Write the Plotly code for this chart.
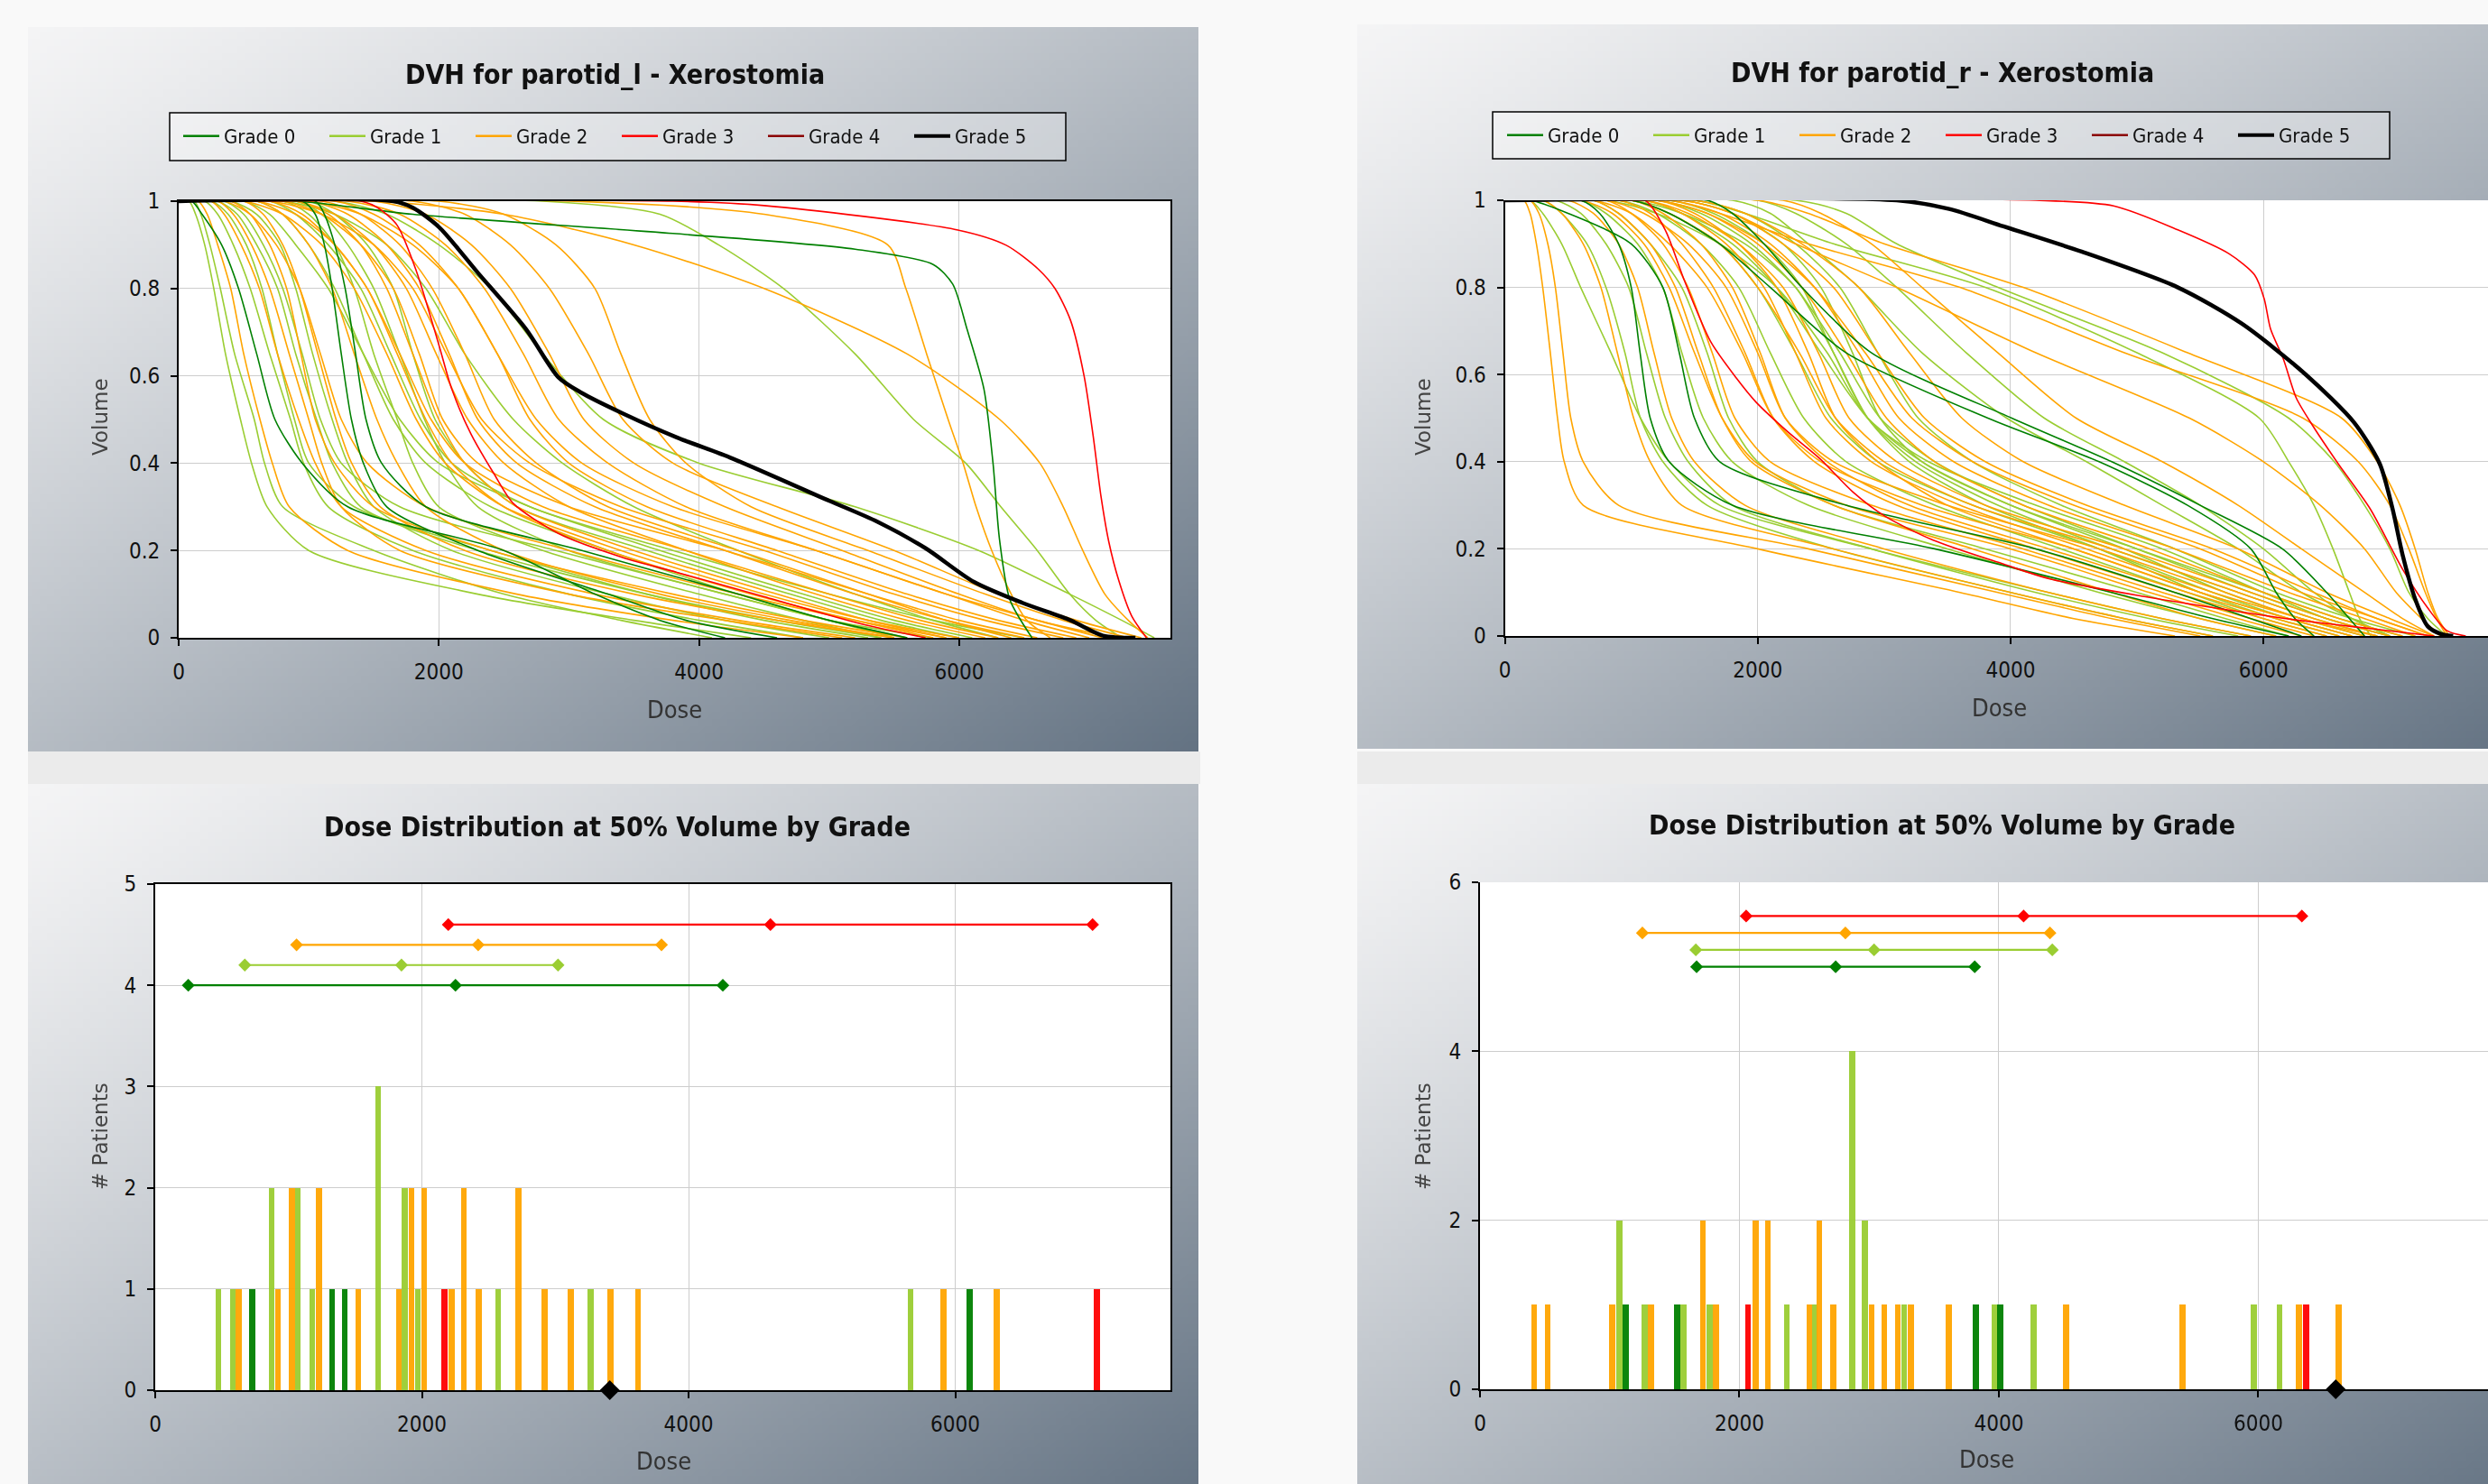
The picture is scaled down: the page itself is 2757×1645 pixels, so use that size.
import base64
import struct
import zlib
import plotly.graph_objects as go

W, H = 2757, 1645

GRADE_NAMES = ["Grade 0", "Grade 1", "Grade 2", "Grade 3", "Grade 4", "Grade 5"]
GRADE_COLORS = ["#008000", "#9ACD32", "#FFA500", "#FF0000", "#8B0000", "#000000"]

VOL_LEVELS = [1, 0.97, 0.9, 0.8, 0.65, 0.5, 0.4, 0.3, 0.2, 0.1, 0.04, 0]

# ---------------- parotid_l DVH: doses at VOL_LEVELS ----------------
L_G1 = [
    [80, 130, 200, 270, 360, 475, 560, 680, 1000, 2300, 3500, 4400],
    [120, 170, 240, 320, 430, 581, 660, 800, 1500, 2500, 3400, 4100],
    [200, 300, 420, 550, 700, 860, 960, 1150, 1800, 3000, 4000, 4800],
    [250, 380, 520, 640, 760, 890, 1000, 1350, 2400, 3600, 4500, 5300],
    [300, 450, 600, 760, 900, 1060, 1180, 1400, 2300, 3600, 4600, 5400],
    [350, 500, 650, 800, 950, 1090, 1250, 1700, 2900, 4200, 5000, 5800],
    [400, 600, 780, 900, 1030, 1180, 1300, 1500, 2100, 3300, 4200, 5000],
    [600, 800, 1000, 1200, 1420, 1650, 1900, 2400, 3300, 4300, 5000, 5600],
    [800, 1000, 1200, 1350, 1500, 1680, 1800, 2000, 2800, 4000, 4800, 5400],
    [500, 700, 900, 1150, 1420, 1700, 2000, 2700, 3700, 4800, 5500, 6100],
    [700, 900, 1150, 1400, 1630, 1860, 2100, 2700, 3800, 5000, 5800, 6500],
    [900, 1100, 1300, 1500, 1700, 1890, 2050, 2300, 3000, 4200, 5000, 5500],
    [1000, 1200, 1450, 1650, 1800, 1971, 2200, 2600, 3600, 4700, 5400, 6000],
    [800, 1200, 1600, 1900, 2200, 2573, 2950, 3500, 4300, 5200, 5800, 6300],
    [1200, 1600, 2000, 2400, 2800, 3265, 4000, 5200, 6150, 6850, 7250, 7500],
    [2800, 3700, 4150, 4650, 5200, 5650, 6050, 6320, 6600, 6850, 7050, 7250],
]
L_G2 = [
    [150, 220, 300, 400, 500, 625, 720, 850, 1300, 2600, 3800, 4800],
    [250, 350, 480, 620, 760, 922, 1050, 1250, 1900, 3200, 4300, 5200],
    [300, 420, 560, 700, 850, 1000, 1100, 1250, 1700, 3000, 4200, 5100],
    [400, 550, 700, 830, 940, 1050, 1200, 1500, 2400, 3800, 4800, 5600],
    [500, 650, 800, 930, 1070, 1210, 1330, 1550, 2200, 3500, 4600, 5500],
    [350, 550, 750, 930, 1090, 1250, 1450, 1900, 3000, 4300, 5200, 5900],
    [600, 800, 1000, 1180, 1350, 1524, 1680, 1900, 2500, 3700, 4700, 5500],
    [500, 800, 1100, 1350, 1600, 1827, 2050, 2500, 3400, 4500, 5300, 6000],
    [700, 950, 1200, 1450, 1680, 1900, 2100, 2500, 3300, 4400, 5200, 5800],
    [600, 900, 1200, 1450, 1700, 1940, 2200, 2800, 3900, 5000, 5700, 6300],
    [900, 1150, 1400, 1600, 1800, 2000, 2200, 2600, 3500, 4600, 5300, 5900],
    [800, 1100, 1400, 1650, 1850, 2030, 2300, 3000, 4200, 5300, 6000, 6600],
    [900, 1200, 1500, 1750, 1980, 2223, 2500, 3000, 3900, 4900, 5600, 6200],
    [1000, 1300, 1600, 1850, 2080, 2300, 2600, 3200, 4200, 5200, 5900, 6500],
    [700, 1100, 1500, 1800, 2060, 2330, 2700, 3400, 4500, 5500, 6200, 6800],
    [1100, 1400, 1700, 1950, 2200, 2426, 2750, 3300, 4300, 5300, 5900, 6400],
    [1200, 1500, 1850, 2150, 2450, 2700, 3000, 3600, 4600, 5600, 6300, 6900],
    [1000, 1400, 1800, 2150, 2450, 2750, 3100, 3800, 4900, 5900, 6600, 7100],
    [1300, 1700, 2050, 2350, 2650, 2922, 3300, 3900, 4900, 5900, 6500, 7000],
    [1500, 1900, 2250, 2550, 2850, 3115, 3500, 4200, 5100, 6000, 6600, 7200],
    [1800, 2200, 2550, 2850, 3150, 3415, 3800, 4600, 5500, 6300, 6900, 7400],
    [2000, 2500, 2900, 3200, 3400, 3621, 3900, 4400, 5300, 6200, 6800, 7300],
    [3000, 4500, 5450, 5590, 5750, 5915, 6030, 6130, 6250, 6400, 6520, 6700],
    [1500, 2500, 3500, 4500, 5600, 6312, 6620, 6800, 6950, 7120, 7300, 7450],
]
L_G0 = [
    [100, 180, 330, 460, 600, 740, 950, 1300, 2500, 3200, 3700, 4200],
    [950, 1050, 1120, 1180, 1250, 1328, 1420, 1600, 2300, 3300, 3900, 4600],
    [1050, 1120, 1200, 1280, 1360, 1440, 1560, 1900, 3100, 4300, 5000, 5600],
]
# curves read with their own volume points
L_G0_PLATEAU_DOSE = [0, 900, 1800, 3800, 5200, 5800, 5950, 6060, 6190, 6260, 6310, 6390, 6560]
L_G0_PLATEAU_VOL = [1, 1, 0.97, 0.926, 0.89, 0.855, 0.81, 0.707, 0.57, 0.4, 0.225, 0.087, 0]
L_G3A_DOSE = [0, 1400, 1530, 1679, 1827, 2001, 2100, 2248, 2421, 2571, 2918, 3413, 3829, 4502, 5245, 5742]
L_G3A_VOL = [1, 1, 0.985, 0.945, 0.84, 0.67, 0.569, 0.466, 0.377, 0.308, 0.239, 0.184, 0.15, 0.094, 0.032, 0]
L_G3B_DOSE = [0, 3800, 4500, 5990, 6362, 6609, 6736, 6856, 6960, 7030, 7090, 7150, 7228, 7326, 7440]
L_G3B_VOL = [1, 1, 0.99, 0.934, 0.899, 0.844, 0.80, 0.727, 0.6, 0.462, 0.324, 0.22, 0.13, 0.05, 0]
L_G5_DOSE = [0, 1650, 1800, 2000, 2297, 2670, 2918, 3091, 3413, 3829, 4254, 4999, 5370, 5742, 6113, 6486, 6856, 7105, 7355]
L_G5_VOL = [1, 1, 0.985, 0.941, 0.837, 0.707, 0.597, 0.562, 0.514, 0.459, 0.411, 0.314, 0.266, 0.205, 0.128, 0.08, 0.04, 0.005, 0]

# ---------------- parotid_r DVH: doses at VOL_LEVELS ----------------
R_G1 = [
    [200, 300, 450, 600, 840, 1073, 1300, 1700, 2900, 4300, 5200, 5900],
    [300, 450, 650, 800, 950, 1073, 1250, 1600, 2600, 4000, 4900, 5600],
    [400, 600, 800, 980, 1120, 1270, 1450, 1800, 2900, 4200, 5100, 5800],
    [600, 800, 1050, 1250, 1400, 1570, 1800, 2400, 3500, 4700, 5500, 6100],
    [700, 900, 1150, 1400, 1600, 1770, 2000, 2600, 3800, 5000, 5700, 6200],
    [900, 1200, 1550, 1850, 2100, 2365, 2700, 3400, 4400, 5400, 6000, 6500],
    [1000, 1300, 1700, 2000, 2300, 2580, 2950, 3700, 4700, 5600, 6200, 6700],
    [1100, 1400, 1800, 2150, 2500, 2870, 3300, 4000, 4900, 5700, 6300, 6800],
    [1000, 1400, 1900, 2300, 2600, 2870, 3200, 3800, 4700, 5500, 6100, 6600],
    [1300, 1650, 2050, 2350, 2600, 2870, 3250, 3900, 4800, 5800, 6400, 6900],
    [800, 1200, 1700, 2150, 2550, 2870, 3350, 4200, 5200, 6000, 6500, 7000],
    [1200, 1550, 1950, 2300, 2650, 2969, 3400, 4100, 5000, 5900, 6500, 7000],
    [1400, 1800, 2200, 2500, 2750, 2969, 3300, 4000, 5000, 6000, 6600, 7100],
    [1500, 1900, 2300, 2650, 2950, 3270, 3700, 4400, 5300, 6100, 6700, 7200],
    [1800, 2100, 2400, 2800, 3300, 3970, 4600, 5200, 5800, 6300, 6700, 7000],
    [2000, 2300, 2700, 3100, 3650, 4267, 4900, 5500, 6000, 6400, 6700, 7000],
    [1500, 1900, 2600, 3800, 5000, 5967, 6200, 6400, 6550, 6680, 6760, 6850],
    [2300, 2700, 3100, 3900, 5200, 6200, 6560, 6800, 7000, 7150, 7300, 7450],
]
R_G2 = [
    [150, 200, 250, 300, 360, 417, 470, 620, 2000, 3600, 4500, 5300],
    [200, 270, 340, 400, 460, 522, 620, 900, 2400, 3900, 4800, 5500],
    [300, 450, 620, 760, 890, 1019, 1150, 1400, 2600, 4000, 4900, 5600],
    [500, 700, 900, 1050, 1180, 1320, 1500, 1900, 3000, 4300, 5200, 5900],
    [700, 900, 1150, 1350, 1530, 1719, 1950, 2600, 3700, 4800, 5500, 6100],
    [600, 850, 1100, 1300, 1500, 1719, 1980, 2700, 4000, 5100, 5800, 6300],
    [800, 1000, 1250, 1450, 1640, 1820, 2100, 2900, 4100, 5200, 5900, 6400],
    [900, 1150, 1400, 1650, 1900, 2124, 2450, 3100, 4200, 5300, 6000, 6500],
    [700, 1000, 1300, 1600, 1880, 2124, 2500, 3300, 4500, 5500, 6200, 6700],
    [1000, 1250, 1550, 1800, 2020, 2219, 2550, 3200, 4300, 5400, 6100, 6600],
    [800, 1100, 1450, 1750, 2000, 2219, 2600, 3500, 4700, 5700, 6300, 6900],
    [1100, 1400, 1750, 2050, 2300, 2540, 2900, 3600, 4600, 5600, 6300, 6800],
    [1000, 1300, 1700, 2000, 2330, 2616, 3000, 3700, 4800, 5800, 6400, 6900],
    [1200, 1500, 1850, 2150, 2400, 2616, 2950, 3500, 4500, 5500, 6200, 6700],
    [1100, 1450, 1850, 2200, 2480, 2723, 3100, 3800, 4900, 5900, 6500, 7000],
    [1200, 1600, 2000, 2350, 2700, 3019, 3400, 4100, 5100, 6000, 6600, 7100],
    [1300, 1700, 2100, 2450, 2800, 3118, 3550, 4300, 5300, 6200, 6800, 7200],
    [1200, 1600, 2050, 2450, 2850, 3220, 3700, 4500, 5500, 6300, 6900, 7300],
    [1400, 1800, 2200, 2600, 2950, 3320, 3800, 4600, 5600, 6400, 6900, 7300],
    [1500, 1900, 2350, 2800, 3200, 3615, 4100, 4900, 5800, 6500, 7000, 7350],
    [2200, 2500, 2900, 3300, 3900, 4519, 5200, 5800, 6300, 6800, 7100, 7350],
    [1400, 1800, 2300, 3100, 4200, 5416, 6000, 6450, 6800, 7050, 7250, 7400],
    [1300, 1700, 2400, 3600, 4900, 6313, 6750, 7000, 7150, 7280, 7370, 7450],
    [2000, 2400, 3000, 4100, 5400, 6619, 6900, 7080, 7200, 7300, 7380, 7470],
]
R_G0 = [
    [600, 750, 900, 1000, 1070, 1150, 1300, 1800, 3400, 4800, 5600, 6200],
    [200, 500, 1000, 1250, 1380, 1500, 1700, 2700, 4200, 5300, 5900, 6300],
    [1000, 1300, 1700, 2100, 2700, 3821, 4700, 5400, 5900, 6100, 6250, 6400],
    [1600, 1800, 2050, 2350, 2900, 4010, 4800, 5500, 6150, 6500, 6680, 6800],
]
R_G3A_DOSE = [0, 1000, 1119, 1272, 1424, 1629, 1831, 1986, 2240, 2495, 2751, 3006, 3388, 3944, 4311, 5069, 5828, 6335, 6844, 7350]
R_G3A_VOL = [1, 1, 0.998, 0.93, 0.813, 0.675, 0.592, 0.537, 0.468, 0.406, 0.331, 0.275, 0.22, 0.165, 0.131, 0.09, 0.055, 0.034, 0.017, 0]
R_G3B_DOSE = [0, 4200, 4815, 5323, 5729, 5929, 6006, 6056, 6157, 6260, 6387, 6592, 6844, 7099, 7300, 7452, 7600]
R_G3B_VOL = [1, 1, 0.987, 0.932, 0.877, 0.829, 0.774, 0.705, 0.636, 0.546, 0.484, 0.395, 0.292, 0.154, 0.064, 0.012, 0]
R_G5_DOSE = [0, 3100, 3515, 3944, 4562, 5323, 5828, 6335, 6717, 6920, 7021, 7099, 7200, 7300, 7401, 7500]
R_G5_VOL = [1, 1, 0.98, 0.94, 0.882, 0.80, 0.717, 0.60, 0.49, 0.395, 0.292, 0.188, 0.085, 0.022, 0.005, 0]

# ---------------- dose at 50% volume histograms ----------------
LH_G0_X = [726, 1328, 1422, 6108]
LH_G0_N = [1, 1, 1, 1]
LH_G1_X = [475, 581, 873, 1070, 1178, 1671, 1873, 1971, 2573, 3265, 5664]
LH_G1_N = [1, 1, 2, 2, 1, 3, 2, 1, 1, 1, 1]
LH_G2_X = [625, 922, 1026, 1229, 1524, 1827, 1921, 2017, 2223, 2315, 2426, 2724, 2922, 3115, 3415, 3621, 5913, 6312]
LH_G2_N = [1, 1, 2, 2, 1, 1, 2, 2, 1, 2, 1, 2, 1, 1, 1, 1, 1, 1]
LH_G3_X = [2170, 7061]
LH_G3_N = [1, 1]

RH_G0_X = [1123, 1521, 3821, 4010]
RH_G0_N = [1, 1, 1, 1]
RH_G1_X = [1073, 1270, 1570, 1770, 2365, 2580, 2870, 2969, 3270, 3970, 4267, 5967, 6164]
RH_G1_N = [2, 1, 1, 1, 1, 1, 4, 2, 1, 1, 1, 1, 1]
RH_G2_X = [417, 522, 1019, 1320, 1719, 1820, 2124, 2219, 2540, 2616, 2723, 3019, 3118, 3220, 3320, 3615, 4519, 5416, 6313, 6619]
RH_G2_N = [1, 1, 1, 1, 2, 1, 2, 2, 1, 2, 1, 1, 1, 1, 1, 1, 1, 1, 1, 1]
RH_G3_X = [2067, 6367]
RH_G3_N = [1, 1]

# range markers (low / centre / high) per grade
LR_GRADE = [0, 1, 2, 3]
LR_Y = [4.0, 4.2, 4.4, 4.6]
LR_LO = [248, 672, 1060, 2198]
LR_MID = [2252, 1847, 2422, 4614]
LR_HI = [4257, 3021, 3797, 7030]
L_G5_MARK = 3409

RR_GRADE = [0, 1, 2, 3]
RR_Y = [5.0, 5.2, 5.4, 5.6]
RR_LO = [1670, 1664, 1252, 2052]
RR_MID = [2742, 3038, 2817, 4191]
RR_HI = [3814, 4412, 4394, 6336]
R_G5_MARK = 6597

# ---------------------------------------------------------------
COND = "DejaVu Sans Condensed, DejaVu Sans, sans-serif"
WIDE = "DejaVu Sans, Verdana, sans-serif"


def fx(px):
    return px / W


def fy(py):
    return 1 - py / H


def gradient_uri(w, h, c0, c1, gamma):
    rows = []
    for j in range(h):
        row = bytearray([0])
        for i in range(w):
            t = ((i / (w - 1) + j / (h - 1)) / 2) ** gamma
            for a, b in zip(c0, c1):
                row.append(int(round(a + (b - a) * t)))
        rows.append(bytes(row))
    raw = b"".join(rows)

    def chunk(tag, data):
        return (struct.pack(">I", len(data)) + tag + data
                + struct.pack(">I", zlib.crc32(tag + data) & 0xFFFFFFFF))

    png = (b"\x89PNG\r\n\x1a\n"
           + chunk(b"IHDR", struct.pack(">IIBBBBB", w, h, 8, 2, 0, 0, 0))
           + chunk(b"IDAT", zlib.compress(raw, 9))
           + chunk(b"IEND", b""))
    return "data:image/png;base64," + base64.b64encode(png).decode()


GRAD = gradient_uri(160, 100, (244, 244, 245), (100, 115, 131), 1.2)

fig = go.Figure()


def add_curve(x, y, grade, xa, ya, width=1.6):
    fig.add_trace(go.Scatter(
        x=x, y=y, mode="lines", showlegend=False, hoverinfo="skip",
        line=dict(color=GRADE_COLORS[grade], width=width, shape="spline", smoothing=0.75),
        xaxis=xa, yaxis=ya))


# DVH panels
for (g1, g2, g0, specials, xa, ya) in [
    (L_G1, L_G2, L_G0,
     [(L_G0_PLATEAU_DOSE, L_G0_PLATEAU_VOL, 0), (L_G3A_DOSE, L_G3A_VOL, 3),
      (L_G3B_DOSE, L_G3B_VOL, 3)], "x", "y"),
    (R_G1, R_G2, R_G0,
     [(R_G3A_DOSE, R_G3A_VOL, 3), (R_G3B_DOSE, R_G3B_VOL, 3)], "x2", "y2"),
]:
    for grade, group in ((1, g1), (2, g2), (0, g0)):
        for d in group:
            add_curve([0] + d, [1] + VOL_LEVELS, grade, xa, ya)
    for d, v, grade in specials:
        add_curve(d, v, grade, xa, ya)

add_curve(L_G5_DOSE, L_G5_VOL, 5, "x", "y", width=4.5)
add_curve(R_G5_DOSE, R_G5_VOL, 5, "x2", "y2", width=4.5)

# legend entries
for legend_id, xa, ya in (("legend", "x", "y"), ("legend2", "x2", "y2")):
    for i, name in enumerate(GRADE_NAMES):
        fig.add_trace(go.Scatter(
            x=[None], y=[None], mode="lines", name=name, legend=legend_id,
            line=dict(color=GRADE_COLORS[i], width=4 if i == 5 else 2.5),
            xaxis=xa, yaxis=ya, showlegend=True))

# histograms
for hist, xa, ya, bw in (
    ([(LH_G1_X, LH_G1_N, 1), (LH_G2_X, LH_G2_N, 2), (LH_G0_X, LH_G0_N, 0), (LH_G3_X, LH_G3_N, 3)], "x3", "y3", 44),
    ([(RH_G1_X, RH_G1_N, 1), (RH_G2_X, RH_G2_N, 2), (RH_G0_X, RH_G0_N, 0), (RH_G3_X, RH_G3_N, 3)], "x4", "y4", 46),
):
    for xs, ns, grade in hist:
        fig.add_trace(go.Bar(
            x=xs, y=ns, width=bw, marker=dict(color=GRADE_COLORS[grade], line=dict(width=0)),
            opacity=0.95, showlegend=False, hoverinfo="skip", xaxis=xa, yaxis=ya))

# range markers
for grades, ys, lo, mid, hi, mark, xa, ya in (
    (LR_GRADE, LR_Y, LR_LO, LR_MID, LR_HI, L_G5_MARK, "x3", "y3"),
    (RR_GRADE, RR_Y, RR_LO, RR_MID, RR_HI, R_G5_MARK, "x4", "y4"),
):
    for g, yv, a, m, b in zip(grades, ys, lo, mid, hi):
        fig.add_trace(go.Scatter(
            x=[a, m, b], y=[yv, yv, yv], mode="lines+markers", showlegend=False,
            hoverinfo="skip", cliponaxis=False,
            line=dict(color=GRADE_COLORS[g], width=2.2),
            marker=dict(symbol="diamond", size=11, color=GRADE_COLORS[g]),
            xaxis=xa, yaxis=ya))
    fig.add_trace(go.Scatter(
        x=[mark], y=[0], mode="markers", showlegend=False, hoverinfo="skip", cliponaxis=False,
        marker=dict(symbol="diamond", size=17, color=GRADE_COLORS[5]),
        xaxis=xa, yaxis=ya))

# ---------------- layout ----------------
AX = dict(showline=True, linecolor="black", linewidth=1.8, ticks="outside", ticklen=7,
          tickcolor="black", tickwidth=1.5, showgrid=True, gridcolor="#cdcdcd", gridwidth=1,
          zeroline=False, automargin=False,
          tickfont=dict(family=COND, size=24, color="#111"))

PLOTS = {
    # name: (x0px, x1px, y_top_px, y_bottom_px, xmax, yrange, dtick_y, mirror)
    "1": (198, 1297, 223, 707, 7624, [0, 1], 0.2, True),
    "2": (1667.5, W, 222, 705, 7776, [0, 1], 0.2, False),
    "3": (172, 1297, 980, 1541, 7614, [0, 5], 1, True),
    "4": (1640, W, 978, 1540, 7771, [0, 6], 2, False),
}

layout = dict(width=W, height=H, margin=dict(l=0, r=0, t=0, b=0, autoexpand=False),
              paper_bgcolor="#f9f9f9", plot_bgcolor="rgba(0,0,0,0)",
              barmode="overlay", bargap=0, showlegend=True, autosize=False)
shapes = []
# grey band below each upper panel
for (bx0, bx1) in ((31, 1330), (1504, W)):
    shapes.append(dict(type="rect", xref="paper", yref="paper", layer="below",
                       x0=fx(bx0), x1=fx(bx1), y0=fy(869), y1=fy(833),
                       fillcolor="#ebebeb", line=dict(width=0)))
for k, (x0, x1, yt, yb, xmax, yr, dty, mir) in PLOTS.items():
    xn = "xaxis" if k == "1" else "xaxis" + k
    yn = "yaxis" if k == "1" else "yaxis" + k
    xref = "x" if k == "1" else "x" + k
    yref = "y" if k == "1" else "y" + k
    layout[xn] = dict(AX, domain=[fx(x0), fx(x1)], range=[0, xmax], anchor=yref,
                      tickmode="array", tickvals=[0, 2000, 4000, 6000],
                      ticktext=["0", "2000", "4000", "6000"], mirror=mir,
                      ticklabelstandoff=8)
    if dty == 0.2:
        yt_vals = [0, 0.2, 0.4, 0.6, 0.8, 1]
        yt_text = ["0", "0.2", "0.4", "0.6", "0.8", "1"]
    else:
        yt_vals = list(range(yr[0], yr[1] + 1, dty))
        yt_text = [str(v) for v in yt_vals]
    layout[yn] = dict(AX, domain=[fy(yb), fy(yt)], range=yr, anchor=xref,
                      tickmode="array", tickvals=yt_vals, ticktext=yt_text, mirror=mir,
                      ticklabelstandoff=7)

# panel backgrounds (gradient)
images = []
for (px0, py0) in ((31, 30), (1504, 27), (31, 869), (1504, 868)):
    images.append(dict(source=GRAD, xref="paper", yref="paper", x=fx(px0), y=fy(py0),
                       sizex=1297 / W, sizey=803 / H, sizing="stretch", layer="below",
                       xanchor="left", yanchor="top"))

for k, (x0, x1, yt, yb, xmax, yr, dty, mir) in PLOTS.items():
    shapes.append(dict(type="rect", xref="paper", yref="paper", layer="below",
                       x0=fx(x0), x1=fx(x1), y0=fy(yb), y1=fy(yt),
                       fillcolor="white", line=dict(width=0)))

# legend boxes
for (bx0, bx1, by0, by1) in ((188, 1181, 125, 178), (1654, 2648, 124, 176)):
    shapes.append(dict(type="rect", xref="paper", yref="paper", layer="below",
                       x0=fx(bx0), x1=fx(bx1), y0=fy(by1), y1=fy(by0),
                       fillcolor="rgba(255,255,255,0.35)", line=dict(color="black", width=1.5)))

LEG = dict(orientation="h", xanchor="center", yanchor="middle", bgcolor="rgba(0,0,0,0)",
           borderwidth=0, font=dict(family=COND, size=22, color="#111"),
           entrywidth=107, entrywidthmode="pixels", itemwidth=40, traceorder="normal")
layout["legend"] = dict(LEG, x=fx(684), y=fy(151))
layout["legend2"] = dict(LEG, x=fx(2151), y=fy(150))

ann = []
for text, x, y in (("DVH for parotid_l - Xerostomia", 681, 82),
                   ("DVH for parotid_r - Xerostomia", 2152, 80),
                   ("Dose Distribution at 50% Volume by Grade", 684, 916),
                   ("Dose Distribution at 50% Volume by Grade", 2152, 914)):
    ann.append(dict(text="<b>" + text + "</b>", x=fx(x), y=fy(y), xref="paper", yref="paper",
                    showarrow=False, xanchor="center", yanchor="middle",
                    font=dict(family=COND, size=30, color="#111")))
for x, y in ((747, 786), (2215, 784), (735, 1619), (2201, 1617)):
    ann.append(dict(text="Dose", x=fx(x), y=fy(y), xref="paper", yref="paper", showarrow=False,
                    xanchor="center", yanchor="middle", font=dict(family=COND, size=27, color="#333")))
for text, x, y in (("Volume", 111, 462), ("Volume", 1577, 462),
                   ("# Patients", 111, 1260), ("# Patients", 1577, 1260)):
    ann.append(dict(text=text, x=fx(x), y=fy(y), xref="paper", yref="paper", showarrow=False,
                    textangle=-90, xanchor="center", yanchor="middle",
                    font=dict(family=WIDE, size=23, color="#444")))

layout["shapes"] = shapes
layout["images"] = images
layout["annotations"] = ann
fig.update_layout(**layout)

POST = ("var gd=document.getElementById('{plot_id}');"
        "gd.style.position='fixed';gd.style.top='0px';gd.style.left='0px';"
        "document.body.style.margin='0px';document.body.style.overflow='hidden';")
fig.write_html("out.html", config={"displayModeBar": False}, post_script=POST)
